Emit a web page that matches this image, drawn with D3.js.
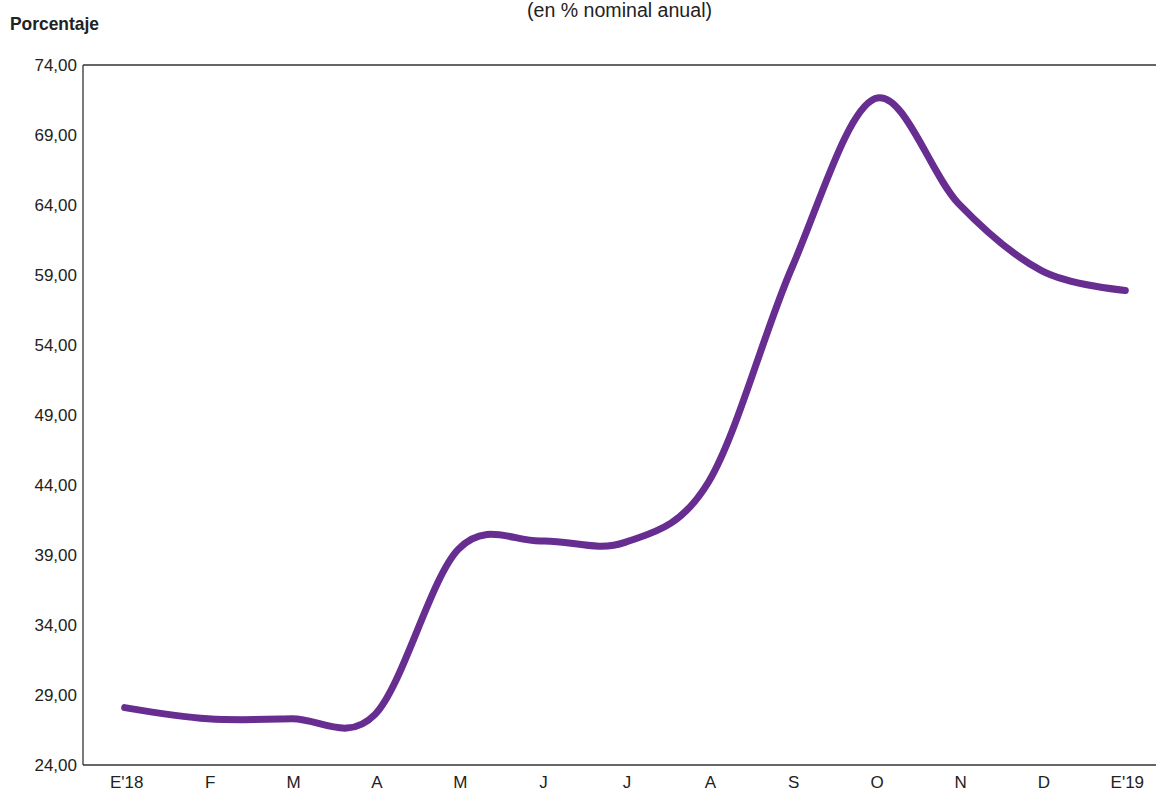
<!DOCTYPE html>
<html>
<head>
<meta charset="utf-8">
<script src="https://cdn.jsdelivr.net/npm/d3@7"></script>
<style>
  body { margin: 0; background: #fff; }
  svg { display: block; }
</style>
</head>
<body>
<svg id="chart" width="1156" height="792"></svg>
<script>
const months = ["E'18", "F", "M", "A", "M ", "J", "J ", "A ", "S", "O", "N", "D", "E'19"];
const monthLabels = ["E'18", "F", "M", "A", "M", "J", "J", "A", "S", "O", "N", "D", "E'19"];
const rates = [28.1, 27.3, 27.3, 27.6, 39.4, 40.0, 39.9, 44.2, 59.5, 71.6, 64.1, 59.3, 57.9];
const yTicks = [24, 29, 34, 39, 44, 49, 54, 59, 64, 69, 74];
const yTitle = "Porcentaje";
const subtitle = "(en % nominal anual)";

(function () {
const svg = d3.select("#chart");
const mLeft = 83, mTop = 65, mBottom = 765, mRight = 1167;

const x = d3.scaleBand().domain(months).range([mLeft, mRight]);
const y = d3.scaleLinear().domain([24, 74]).range([mBottom, mTop]);

const tickFont = "'Liberation Sans', Arial, sans-serif";
const narrowFont = "'Liberation Sans Narrow', 'Arial Narrow', 'Liberation Sans', Arial, sans-serif";

// top border
svg.append("line")
  .attr("x1", mLeft).attr("x2", 1156)
  .attr("y1", y(74)).attr("y2", y(74))
  .attr("stroke", "#333").attr("stroke-width", 1.3);

// y axis
const yAxis = svg.append("g")
  .attr("transform", `translate(${mLeft},0)`)
  .call(d3.axisLeft(y).tickValues(yTicks).tickSize(6).tickPadding(2)
    .tickFormat(d => d3.format(".2f")(d).replace(".", ",")));
yAxis.select(".domain").attr("stroke", "#333").attr("stroke-width", 1.3)
  .attr("d", `M0,${mTop}V${mBottom}`);
yAxis.selectAll(".tick line").remove();
yAxis.selectAll(".tick text")
  .attr("x", -6)
  .attr("font-family", tickFont).attr("font-size", 17).attr("fill", "#222");

// x axis
const xAxis = svg.append("g")
  .attr("transform", `translate(0,${mBottom})`)
  .call(d3.axisBottom(x).tickSize(0).tickPadding(11)
    .tickFormat((d, i) => monthLabels[i]));
xAxis.select(".domain").attr("stroke", "#333").attr("stroke-width", 1.3)
  .attr("d", `M${mLeft},0H1156`);
xAxis.selectAll(".tick text")
  .attr("dx", 2)
  .attr("font-family", tickFont).attr("font-size", 17).attr("fill", "#222");

// line
const line = d3.line()
  .x((d, i) => x(months[i]) + x.bandwidth() / 2)
  .y(d => y(d))
  .curve(d3.curveCatmullRom.alpha(0));

svg.append("path")
  .datum(rates)
  .attr("d", line)
  .attr("fill", "none")
  .attr("stroke", "#672d91")
  .attr("stroke-width", 7)
  .attr("stroke-linecap", "round")
  .attr("stroke-linejoin", "round");

// titles
svg.append("text")
  .attr("x", 10).attr("y", 30)
  .attr("font-family", narrowFont).attr("font-weight", "bold")
  .attr("font-size", 19).attr("fill", "#222")
  .attr("textLength", 89).attr("lengthAdjust", "spacingAndGlyphs")
  .text(yTitle);

svg.append("text")
  .attr("x", 527).attr("y", 17)
  .attr("font-family", narrowFont)
  .attr("font-size", 20).attr("fill", "#222")
  .attr("textLength", 185).attr("lengthAdjust", "spacingAndGlyphs")
  .text(subtitle);
})();
</script>
</body>
</html>
